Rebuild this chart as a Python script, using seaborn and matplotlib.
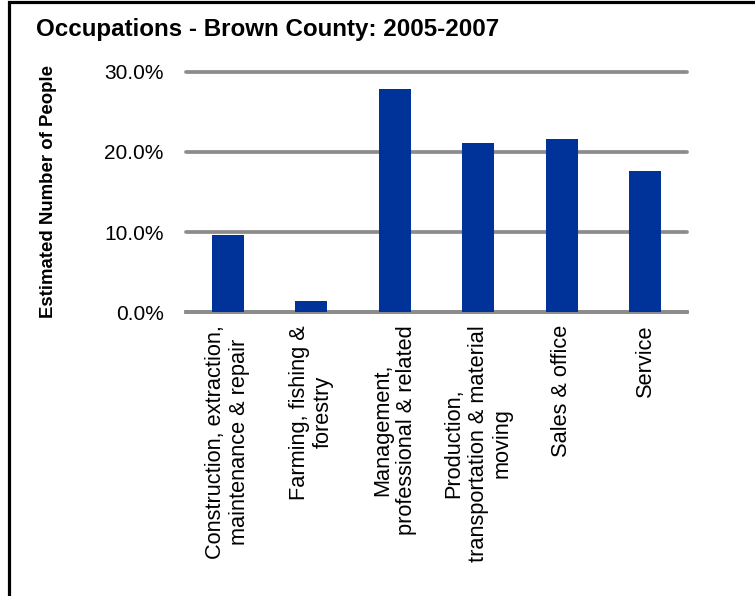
import matplotlib
matplotlib.use("Agg")
import matplotlib.pyplot as plt
from matplotlib.patches import Rectangle
from matplotlib.ticker import PercentFormatter
import seaborn as sns
import pandas as pd

categories = [
    "Construction, extraction,\nmaintenance & repair",
    "Farming, fishing &\nforestry",
    "Management,\nprofessional & related",
    "Production,\ntransportation & material\nmoving",
    "Sales & office",
    "Service",
]
values = [9.64, 1.45, 27.9, 21.1, 21.6, 17.6]
yticks = [0, 10, 20, 30]
title = "Occupations - Brown County: 2005-2007"
ylabel = "Estimated Number of People"

sns.set_theme(style="white")
plt.rcParams["font.family"] = ["Liberation Sans", "DejaVu Sans"]
plt.rcParams["text.color"] = "black"
plt.rcParams["axes.labelcolor"] = "black"

W, H = 755, 596
fig = plt.figure(figsize=(W / 100, H / 100), dpi=100)
ax = fig.add_axes([186 / W, 1 - 312.3 / H, (687 - 186) / W, (312.3 - 71.7) / H])

df = pd.DataFrame({"cat": categories, "val": values})
sns.barplot(data=df, x="cat", y="val", color="#003399", width=0.38,
            saturation=1, edgecolor="none", ax=ax, zorder=3)

ax.set_ylim(0, 30)
ax.set_yticks(yticks)
ax.yaxis.set_major_formatter(PercentFormatter(decimals=1))
ax.grid(axis="y", color="#8c8c8c", linewidth=2.7, zorder=0)
ax.set_axisbelow(True)
for gl in ax.get_ygridlines():
    gl.set_clip_on(False)
for s in ["left", "right", "top"]:
    ax.spines[s].set_visible(False)
ax.spines["bottom"].set_color("#8c8c8c")
ax.spines["bottom"].set_linewidth(2.7)
ax.spines["bottom"].set_zorder(0)
ax.tick_params(axis="y", length=0, pad=16, labelsize=15, labelcolor="black")
ax.tick_params(axis="x", length=0, pad=9, labelsize=15.7, labelcolor="black")
for lab in ax.get_xticklabels():
    lab.set_rotation(90)
    lab.set_va("top")
    lab.set_ha("center")
    lab.set_multialignment("center")
ax.set_xlabel("")
ax.set_ylabel("")

fig.text(36 / W, 1 - 36 / H, title, ha="left", va="baseline",
         fontsize=17.4, fontweight="bold", color="black")
fig.text(49 / W, 1 - 192 / H, ylabel, ha="center", va="center",
         rotation=90, fontsize=13.4, fontweight="bold", color="black")

# frame: only left and top edges fall inside the canvas
fig.add_artist(Rectangle((8.5 / W, -0.1), 1.2, 1.1 - 2.5 / H,
                         transform=fig.transFigure, fill=False,
                         edgecolor="black", linewidth=2.3))

fig.savefig("out.png", dpi=100)
